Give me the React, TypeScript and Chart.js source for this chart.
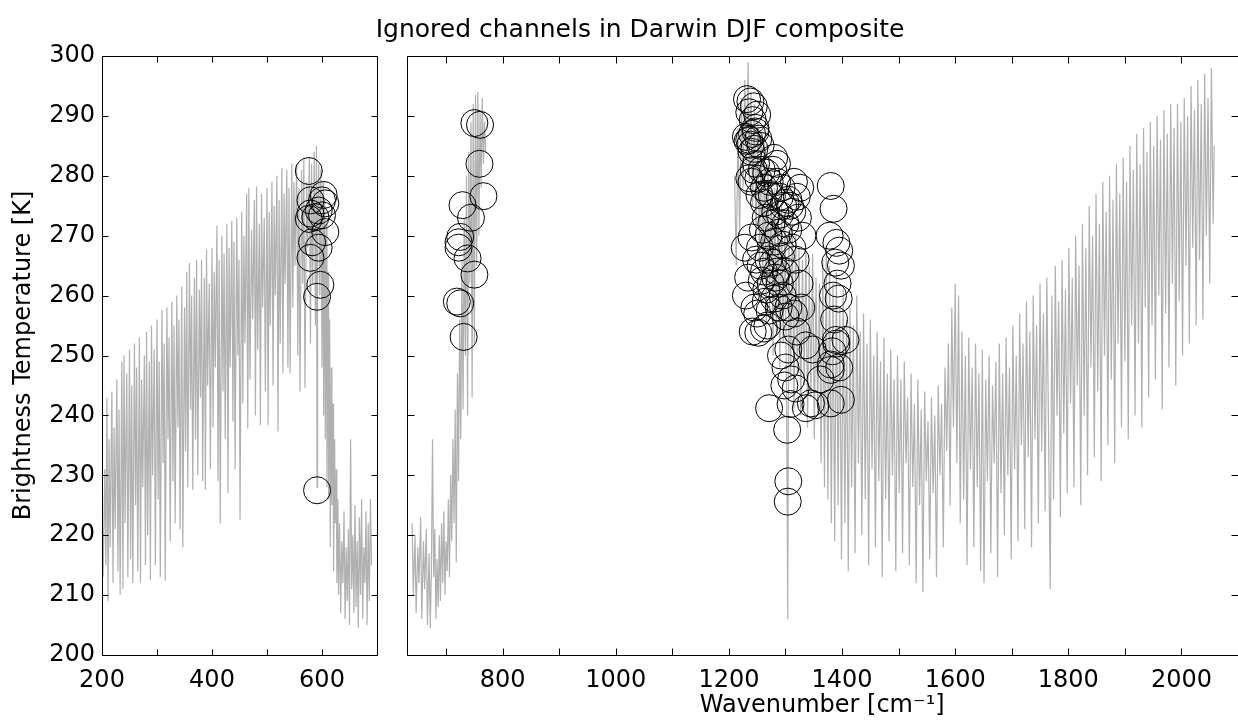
import React, { useEffect, useRef } from 'react';
import { Chart, registerables } from 'chart.js';

Chart.register(...registerables);

const TITLE = 'Ignored channels in Darwin DJF composite';
const Y_LABEL = 'Brightness Temperature [K]';
const X_LABEL = 'Wavenumber [cm\u207B\u00B9]';

const Y_RANGE = [200, 300];
const LEFT_X_RANGE = [200, 700];
const RIGHT_X_RANGE = [630, 2100];
const Y_TICKS = [200, 210, 220, 230, 240, 250, 260, 270, 280, 290, 300];
const LEFT_X_TICKS = [200, 300, 400, 500, 600, 700];
const LEFT_X_LABELS = [200, 400, 600];
const RIGHT_X_TICKS = [700, 800, 900, 1000, 1100, 1200, 1300, 1400, 1500, 1600, 1700, 1800, 1900, 2000];
const RIGHT_X_LABELS = [800, 1000, 1200, 1400, 1600, 1800, 2000];

// Spectrum, left panel: [wavenumber, brightness temperature]
const leftSpectrum: [number, number][] = [
  [200, 226], [202, 213], [205, 231], [207, 215], [209, 243], [211, 209], [213, 236], [215, 218], [218, 244], [220, 212],
  [222, 238], [224, 221], [227, 246], [229, 214], [231, 241], [233, 210], [236, 249], [238, 211], [240, 250], [242, 222],
  [245, 247], [247, 213], [250, 251], [252, 216], [254, 245], [256, 212], [259, 252], [261, 225], [263, 248], [265, 214],
  [268, 253], [270, 212], [272, 246], [274, 228], [277, 250], [279, 215], [281, 254], [283, 220], [286, 249], [288, 212.5],
  [290, 255], [292, 230], [295, 251], [297, 215], [300, 256], [302, 226], [304, 249], [306, 213], [309, 257.6], [311, 232],
  [313, 252], [315, 212.4], [318, 258], [320, 236], [322, 253], [324, 219], [327, 259], [329, 229], [331, 255], [333, 222],
  [336, 260], [338, 238], [340, 256], [342, 221], [345, 261.5], [347, 218], [350, 258], [352, 234], [354, 264], [356, 228],
  [359, 265.5], [361, 241], [363, 260], [365, 227.6], [368, 263], [370, 236], [372, 266], [374, 230], [377, 261], [379, 243],
  [381, 266], [383, 229], [386, 263], [388, 227.6], [390, 267.7], [392, 245], [395, 262], [397, 231], [400, 268], [402, 238],
  [404, 264], [406, 248], [409, 271.7], [411, 229], [413, 266], [415, 222], [418, 270], [420, 244], [422, 267], [424, 236],
  [427, 272], [429, 227], [431, 268], [433, 248], [436, 272.5], [438, 239], [440, 269], [442, 231], [445, 273], [447, 250],
  [449, 266], [451, 222.6], [454, 274], [456, 242], [458, 270], [460, 252], [463, 277], [465, 237.8], [467, 278], [469, 246],
  [472, 271], [474, 256], [477, 276], [479, 240], [481, 278.2], [483, 251], [486, 272], [488, 238.4], [490, 277], [492, 258],
  [495, 273], [497, 244], [500, 278], [502, 238.4], [504, 274], [506, 255], [509, 279], [511, 245], [513, 275], [515, 260],
  [518, 280], [520, 237.3], [522, 276], [524, 252], [527, 281.3], [529, 247], [531, 277], [533, 262], [536, 281], [538, 248],
  [540, 278], [542, 247], [545, 282], [547, 258], [549, 279], [551, 265], [554, 282], [556, 250], [558, 278], [560, 244],
  [563, 281], [565, 262], [567, 283], [569, 244.6], [572, 279], [574, 268], [577, 283], [579, 252], [581, 282], [583, 262],
  [586, 284], [588, 255], [590, 285], [591, 228], [592, 270], [594, 282], [596, 260], [598, 281], [600, 248], [602, 279],
  [603, 240], [605, 276], [606, 236], [608, 272], [609, 228], [611, 264], [612, 226], [614, 256], [615, 218], [617, 248],
  [618, 225], [620, 242], [621, 214], [623, 236], [624, 222], [626, 231], [627, 212], [629, 226], [630, 210], [632, 222],
  [634, 207], [636, 219], [638, 212], [640, 224], [642, 206], [644, 218], [646, 209], [648, 221], [650, 205], [652, 236],
  [654, 211], [656, 220], [658, 207], [660, 225], [662, 208], [664, 219], [666, 204.5], [668, 223], [670, 210], [672, 226],
  [674, 206], [676, 218], [678, 212], [680, 224], [682, 205], [684, 222], [686, 209], [688, 226], [690, 215],
];

// Spectrum, right panel, first band
const rightSpectrumA: [number, number][] = [
  [640, 222], [642, 210], [645, 220], [647, 207], [650, 218], [652, 212], [655, 223], [657, 206], [660, 219], [662, 211],
  [665, 221], [667, 205], [670, 217], [672, 204.5], [674, 214], [676, 236], [678, 213], [680, 221], [682, 206], [684, 216],
  [686, 208], [688, 220], [690, 209], [692, 222], [694, 212], [696, 224], [698, 210], [700, 219], [702, 214], [704, 226],
  [706, 213], [708, 230], [710, 219], [712, 236], [714, 222], [716, 241], [718, 215.5], [720, 247], [722, 229], [724, 256],
  [726, 236], [728, 266], [730, 241], [732, 273], [734, 250], [736, 280], [738, 240], [740, 284], [742, 262], [744, 289],
  [746, 243], [748, 292], [750, 252], [752, 293.5], [754, 265], [756, 294], [758, 270], [760, 291], [762, 278], [764, 293],
  [766, 282], [768, 289], [770, 284],
];

// Spectrum, right panel, second band
const rightSpectrumB: [number, number][] = [
  [1210, 280], [1213, 265], [1216, 288], [1219, 270], [1222, 293], [1225, 278], [1228, 296], [1231, 282], [1234, 299], [1236, 279],
  [1239, 294], [1242, 275], [1245, 292], [1248, 270], [1251, 289], [1254, 266], [1257, 286], [1260, 262], [1263, 284], [1266, 255],
  [1269, 282], [1272, 258], [1275, 280], [1278, 250], [1281, 278], [1284, 254], [1287, 276], [1290, 248], [1293, 275], [1296, 252],
  [1299, 273], [1302, 242], [1304, 206], [1306, 271], [1309, 246], [1312, 272], [1315, 241], [1318, 270], [1321, 247], [1324, 268],
  [1327, 240], [1330, 266], [1333, 245], [1336, 268], [1339, 238], [1342, 265], [1345, 243], [1348, 267], [1351, 236], [1354, 263],
  [1357, 240], [1360, 262], [1363, 232], [1366, 266], [1369, 228], [1372, 268], [1375, 226], [1378, 265], [1381, 222], [1384, 262],
  [1387, 219], [1390, 264], [1393, 225], [1396, 258], [1399, 216], [1402, 261], [1405, 222], [1408, 256], [1411, 214], [1414, 258],
  [1417, 228], [1420, 255], [1423, 217], [1426, 260], [1429, 232], [1432, 254], [1435, 220], [1438, 257], [1441, 226], [1444, 252],
  [1447, 215], [1450, 256], [1453, 231], [1456, 250], [1459, 218], [1462, 254], [1465, 229], [1468, 249], [1471, 213], [1474, 253],
  [1477, 226], [1480, 247], [1483, 219], [1486, 251], [1489, 230], [1492, 246], [1495, 214], [1498, 250], [1501, 227], [1504, 246],
  [1507, 217], [1510, 249], [1513, 232], [1516, 243], [1519, 215], [1522, 247], [1525, 228], [1528, 242], [1531, 212], [1534, 246],
  [1537, 225], [1540, 241], [1543, 210.5], [1546, 244], [1549, 229], [1552, 239], [1555, 216], [1558, 243], [1561, 227], [1564, 240],
  [1567, 213], [1570, 245], [1573, 230], [1576, 242], [1579, 218], [1582, 248], [1585, 234], [1588, 252], [1591, 225], [1594, 258],
  [1597, 238], [1600, 262], [1603, 232], [1606, 260], [1609, 222], [1612, 254], [1615, 226], [1618, 250], [1621, 215], [1624, 253],
  [1627, 231], [1630, 248], [1633, 218], [1636, 252], [1639, 228], [1642, 247], [1645, 214], [1648, 251], [1651, 212], [1654, 246],
  [1657, 229], [1660, 250], [1663, 217], [1666, 245], [1669, 232], [1672, 249], [1675, 213], [1678, 252], [1681, 227], [1684, 247],
  [1687, 220], [1690, 253], [1693, 230], [1696, 248], [1699, 216], [1702, 255], [1705, 231], [1708, 250], [1711, 219], [1714, 257],
  [1717, 235], [1720, 252], [1723, 221], [1726, 259], [1729, 233], [1732, 254], [1735, 218], [1738, 260], [1741, 236], [1744, 255],
  [1747, 222], [1750, 262], [1753, 234], [1756, 257], [1759, 224], [1762, 263], [1765, 238], [1768, 211], [1771, 260], [1774, 226],
  [1777, 265], [1780, 240], [1783, 259], [1786, 223], [1789, 266], [1792, 237], [1795, 261], [1798, 227], [1801, 268], [1804, 242],
  [1807, 263], [1810, 228], [1813, 270], [1816, 245], [1819, 265], [1822, 225], [1825, 272], [1828, 240], [1831, 268], [1834, 230],
  [1837, 275], [1840, 248], [1843, 270], [1846, 233], [1849, 277], [1852, 244], [1855, 272], [1858, 229], [1861, 279], [1864, 250],
  [1867, 274], [1870, 235], [1873, 280], [1876, 246], [1879, 276], [1882, 232], [1885, 282], [1888, 252], [1891, 277], [1894, 238],
  [1897, 283], [1900, 249], [1903, 279], [1906, 236], [1909, 285], [1912, 255], [1915, 281], [1918, 240], [1921, 287], [1924, 252],
  [1927, 282], [1930, 238], [1933, 288], [1936, 258], [1939, 284], [1942, 243], [1945, 289], [1948, 255], [1951, 285], [1954, 246],
  [1957, 290], [1960, 260], [1963, 286], [1966, 241], [1969, 291], [1972, 257], [1975, 287], [1978, 248], [1981, 292], [1984, 262],
  [1987, 288], [1990, 245], [1993, 292], [1996, 259], [1999, 289], [2002, 250], [2005, 293], [2008, 265], [2011, 290], [2014, 252],
  [2017, 295], [2020, 268], [2023, 291], [2026, 255], [2029, 296], [2032, 266], [2035, 292], [2038, 256], [2041, 297], [2044, 270],
  [2047, 293], [2050, 262], [2053, 298], [2056, 272], [2058, 285],
];

// Ignored channels (circles)
const leftIgnored: [number, number][] = [
  [576, 280.8], [603, 276.8], [600, 275.9], [579, 275.9], [606, 275.4], [594, 274.2], [579, 273.7], [600, 273.4], [588, 273.1],
  [576, 272.8], [606, 270.6], [582, 268.9], [594, 268], [579, 266.3], [597, 261.8], [591, 259.8], [591, 227.5],
];

const rightIgnored: [number, number][] = [
  [750, 288.8], [760, 288.5], [759, 282], [766, 276.6], [729, 275.1], [744, 273], [725, 269.8], [722, 268.9], [722, 268],
  [738, 266.2], [750, 263.5], [719, 259], [725, 258.7], [731, 253.1],
  [1232, 292.8], [1238, 292.4], [1244, 291.6], [1250, 290.2], [1236, 290.6], [1242, 289.3], [1247, 288],
  [1230, 286.5], [1236, 286], [1241, 287], [1247, 287.4], [1238, 285.2], [1252, 286.2], [1245, 284.5], [1256, 285], [1233, 285.8], [1240, 284],
  [1248, 282], [1258, 281], [1266, 280.5], [1272, 279], [1280, 283], [1285, 282], [1278, 281], [1262, 278], [1252, 279.5], [1240, 279], [1236, 279.6], [1244, 281],
  [1270, 277], [1290, 276.5], [1296, 275], [1300, 275.5], [1308, 275], [1312, 274], [1305, 276], [1293, 278], [1285, 279], [1276, 276.6], [1262, 275.5], [1254, 276.8],
  [1265, 273], [1275, 272], [1282, 274], [1290, 273.5], [1300, 272], [1305, 271], [1270, 270], [1280, 269], [1288, 270.5], [1295, 268.5], [1260, 271], [1255, 268],
  [1240, 269.7], [1248, 266], [1256, 265], [1262, 264], [1270, 266], [1278, 265.5], [1285, 264], [1292, 266.5], [1300, 264], [1274, 262], [1266, 261], [1258, 262.5], [1290, 262], [1282, 263],
  [1265, 259], [1272, 257.5], [1268, 255], [1262, 254.5], [1252, 253.8], [1280, 259.5], [1288, 258], [1295, 260], [1305, 258], [1300, 256.5],
  [1228, 268], [1234, 263], [1230, 260], [1245, 258], [1242, 254], [1250, 257],
  [1320, 276.5], [1326, 278], [1315, 279], [1322, 273], [1330, 270], [1312, 268], [1318, 266], [1325, 262], [1315, 257], [1320, 254], [1328, 258],
  [1380, 278.3], [1385, 274.5], [1378, 270], [1390, 268.8], [1395, 267.5], [1388, 265.5], [1398, 265], [1392, 262], [1384, 260], [1394, 259.5],
  [1386, 256], [1390, 252], [1383, 250.7], [1395, 248], [1380, 248.5],
  [1271, 241.2], [1303, 237.6], [1309, 241.9], [1336, 241.2], [1345, 242], [1353, 241.7], [1380, 242], [1398, 242.6],
  [1292, 250], [1300, 248], [1310, 246], [1318, 244.5], [1298, 245], [1305, 251], [1336, 251.7], [1348, 251], [1362, 246],
  [1380, 247.6], [1389, 252.6], [1406, 252.6], [1304, 225.6], [1305, 229],
];

const FONT = "'DejaVu Sans', 'Liberation Sans', Arial, sans-serif";
const GRAY = 'rgb(176,176,176)';
const CANVAS_H = 723;
const LEFT_W = 392;
const RIGHT_LEFT = 392;
const RIGHT_W = 906;
const RIGHT_OVERHANG = 60;

const toXY = (arr: [number, number][]) => arr.map(([x, y]) => ({ x, y }));

function framePlugin(xTicks: number[], yTicks: number[], len: number) {
  return {
    id: 'frameTicks',
    afterDraw(chart: any) {
      const { ctx, chartArea } = chart;
      const xs = chart.scales.x;
      const ys = chart.scales.y;
      const l = Math.round(chartArea.left) + 0.5;
      const r = Math.round(chartArea.right) + 0.5;
      const t = Math.round(chartArea.top) + 0.5;
      const b = Math.round(chartArea.bottom) + 0.5;
      ctx.save();
      ctx.strokeStyle = '#000';
      ctx.lineWidth = 1;
      ctx.beginPath();
      ctx.moveTo(l, t);
      ctx.lineTo(r, t);
      ctx.lineTo(r, b);
      ctx.lineTo(l, b);
      ctx.closePath();
      for (const v of xTicks) {
        const px = Math.round(xs.getPixelForValue(v)) + 0.5;
        ctx.moveTo(px, b);
        ctx.lineTo(px, b - len);
        ctx.moveTo(px, t);
        ctx.lineTo(px, t + len);
      }
      for (const v of yTicks) {
        const py = Math.round(ys.getPixelForValue(v)) + 0.5;
        ctx.moveTo(l, py);
        ctx.lineTo(l + len, py);
        ctx.moveTo(r, py);
        ctx.lineTo(r - len, py);
      }
      ctx.stroke();
      ctx.restore();
    },
  };
}

function lineDataset(data: [number, number][]) {
  return {
    type: 'scatter' as const,
    data: toXY(data),
    showLine: true,
    borderColor: GRAY,
    borderWidth: 1.2,
    pointRadius: 0,
    tension: 0,
    order: 2,
  };
}

function circleDataset(data: [number, number][]) {
  return {
    type: 'scatter' as const,
    data: toXY(data),
    showLine: false,
    pointStyle: 'circle',
    pointRadius: 13.5,
    pointBorderColor: '#000',
    pointBackgroundColor: 'rgba(0,0,0,0)',
    pointBorderWidth: 1,
    order: 1,
  };
}

function Panel(props: { isLeft: boolean; width: number; left: number }) {
  const ref = useRef<HTMLCanvasElement | null>(null);
  useEffect(() => {
    if (!ref.current) return;
    const { isLeft } = props;
    const xRange = isLeft ? LEFT_X_RANGE : RIGHT_X_RANGE;
    const xTicks = isLeft ? LEFT_X_TICKS : RIGHT_X_TICKS;
    const xLabels = isLeft ? LEFT_X_LABELS : RIGHT_X_LABELS;
    const datasets: any[] = isLeft
      ? [circleDataset(leftIgnored), lineDataset(leftSpectrum)]
      : [circleDataset(rightIgnored), lineDataset(rightSpectrumA), lineDataset(rightSpectrumB)];
    const chart = new Chart(ref.current, {
      type: 'scatter',
      data: { datasets },
      options: {
        animation: false,
        responsive: false,
        events: [],
        layout: {
          padding: isLeft
            ? { left: 0, right: 15, top: 56, bottom: 0 }
            : { left: 13, right: RIGHT_OVERHANG, top: 56, bottom: 0 },
        },
        plugins: {
          legend: { display: false },
          tooltip: { enabled: false },
          title: { display: false },
        },
        scales: {
          x: {
            type: 'linear',
            min: xRange[0],
            max: xRange[1],
            grid: { display: false, drawTicks: false },
            border: { display: false },
            afterBuildTicks: (scale: any) => {
              scale.ticks = xTicks.map((v) => ({ value: v }));
            },
            afterFit: (scale: any) => {
              scale.height = 68;
            },
            ticks: {
              autoSkip: false,
              maxRotation: 0,
              padding: 11,
              color: '#000',
              font: { family: FONT, size: 24 },
              callback: (v: any) => (xLabels.includes(Number(v)) ? String(v) : ''),
            },
            title: {
              display: !isLeft,
              text: X_LABEL,
              color: '#000',
              font: { family: FONT, size: 24 },
              padding: { top: 0, bottom: 3 },
            },
          },
          y: {
            type: 'linear',
            display: isLeft,
            min: Y_RANGE[0],
            max: Y_RANGE[1],
            grid: { display: false, drawTicks: false },
            border: { display: false },
            afterBuildTicks: (scale: any) => {
              scale.ticks = Y_TICKS.map((v) => ({ value: v }));
            },
            afterFit: (scale: any) => {
              scale.width = isLeft ? 102 : 0;
            },
            ticks: {
              autoSkip: false,
              padding: 7,
              color: '#000',
              font: { family: FONT, size: 24 },
              callback: (v: any) => String(v),
            },
            title: {
              display: isLeft,
              text: Y_LABEL,
              color: '#000',
              font: { family: FONT, size: 24 },
              padding: { top: 9, bottom: 0 },
            },
          },
        },
      } as any,
      plugins: [framePlugin(xTicks, Y_TICKS, isLeft ? 6 : 7)],
    });
    return () => chart.destroy();
  }, []);
  return (
    <canvas
      ref={ref}
      width={props.width}
      height={CANVAS_H}
      style={{ position: 'absolute', left: props.left, top: 0, width: props.width, height: CANVAS_H }}
    />
  );
}

export default function App() {
  return (
    <div
      style={{
        position: 'absolute',
        left: 0,
        top: 0,
        width: 1238,
        height: CANVAS_H,
        background: '#fff',
        overflow: 'hidden',
      }}
    >
      <Panel isLeft={true} width={LEFT_W} left={0} />
      <Panel isLeft={false} width={RIGHT_W} left={RIGHT_LEFT} />
      <div
        style={{
          position: 'absolute',
          left: 240,
          width: 800,
          top: 16,
          textAlign: 'center',
          fontFamily: FONT,
          fontSize: 25,
          lineHeight: '25px',
          color: '#000',
          whiteSpace: 'nowrap',
        }}
      >
        {TITLE}
      </div>
    </div>
  );
}
